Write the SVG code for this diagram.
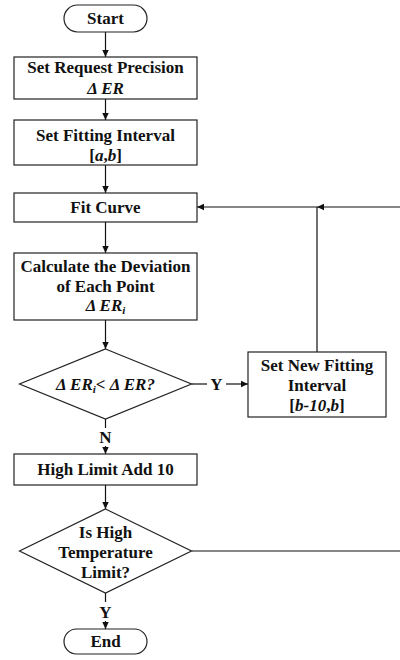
<svg xmlns="http://www.w3.org/2000/svg" width="400" height="660" viewBox="0 0 400 660" font-family="Liberation Serif, serif">
<style>
.shape{fill:#fff;stroke:#222;stroke-width:1.2}
.line{fill:none;stroke:#111;stroke-width:1.2}
text{font-family:'Liberation Serif',serif;font-weight:bold;font-size:17px;fill:#111;text-anchor:middle}
.it{font-style:italic}
</style>
<defs>
<marker id="arr" markerWidth="8" markerHeight="8" refX="7" refY="4" orient="auto" markerUnits="userSpaceOnUse">
<path d="M0,0.8 L7,4 L0,7.2 Z" fill="#111"/>
</marker>
</defs>
<rect width="400" height="660" fill="#fff"/>
<g id="connectors">
<line class="line" x1="105.5" y1="32" x2="105.5" y2="57" marker-end="url(#arr)"/>
<line class="line" x1="105.5" y1="99" x2="105.5" y2="120" marker-end="url(#arr)"/>
<line class="line" x1="105.5" y1="165" x2="105.5" y2="193" marker-end="url(#arr)"/>
<line class="line" x1="105.5" y1="222" x2="105.5" y2="253" marker-end="url(#arr)"/>
<line class="line" x1="105.5" y1="320" x2="105.5" y2="349" marker-end="url(#arr)"/>
<line class="line" x1="105.5" y1="419" x2="105.5" y2="428"/>
<text x="105.5" y="443">N</text>
<line class="line" x1="105.5" y1="446" x2="105.5" y2="454" marker-end="url(#arr)"/>
<line class="line" x1="105.5" y1="485" x2="105.5" y2="509" marker-end="url(#arr)"/>
<line class="line" x1="105.5" y1="593" x2="105.5" y2="602"/>
<text x="105.5" y="618">Y</text>
<line class="line" x1="105.5" y1="621" x2="105.5" y2="629" marker-end="url(#arr)"/>
<line class="line" x1="191.5" y1="384" x2="207" y2="384"/>
<text x="216.5" y="390">Y</text>
<line class="line" x1="226" y1="384" x2="248" y2="384" marker-end="url(#arr)"/>
<line class="line" x1="317" y1="352" x2="317" y2="207"/>
<line class="line" x1="400" y1="207" x2="317" y2="207" marker-end="url(#arr)"/>
<line class="line" x1="317" y1="207" x2="197" y2="207" marker-end="url(#arr)"/>
<line class="line" x1="191.5" y1="551" x2="400" y2="551"/>
</g>
<g id="start">
<rect class="shape" x="64" y="5" width="83" height="27" rx="13.5"/>
<text x="105.5" y="24">Start</text>
</g>
<g id="set-precision">
<rect class="shape" x="14" y="57" width="183" height="42"/>
<text x="105.5" y="73">Set Request Precision</text>
<text x="105.5" y="94" class="it">Δ ER</text>
</g>
<g id="set-interval">
<rect class="shape" x="14" y="120" width="183" height="45"/>
<text x="105.5" y="141">Set Fitting Interval</text>
<text x="105.5" y="161">[<tspan class="it">a</tspan>,<tspan class="it">b</tspan>]</text>
</g>
<g id="fit-curve">
<rect class="shape" x="14" y="193" width="183" height="29"/>
<text x="105.5" y="213">Fit Curve</text>
</g>
<g id="calc-deviation">
<rect class="shape" x="14" y="253" width="183" height="67"/>
<text x="105.5" y="272">Calculate the Deviation</text>
<text x="105.5" y="292">of Each Point</text>
<text x="105.5" y="311" class="it">Δ ER<tspan font-size="11" dy="3">i</tspan></text>
</g>
<g id="compare">
<polygon class="shape" points="105.5,349 191.5,384 105.5,419 19.5,384"/>
<text x="105.5" y="390" class="it">Δ ER<tspan font-size="11" dy="3">i</tspan><tspan dy="-3">&lt; Δ ER?</tspan></text>
</g>
<g id="new-interval">
<rect class="shape" x="248" y="352" width="138" height="65"/>
<text x="317" y="371">Set New Fitting</text>
<text x="317" y="391">Interval</text>
<text x="317" y="411">[<tspan class="it">b-10</tspan>,<tspan class="it">b</tspan>]</text>
</g>
<g id="high-limit">
<rect class="shape" x="14" y="454" width="183" height="31"/>
<text x="105.5" y="475">High Limit Add 10</text>
</g>
<g id="is-high">
<polygon class="shape" points="105.5,509 191.5,551 105.5,593 19.5,551"/>
<text x="105.5" y="538">Is High</text>
<text x="105.5" y="558">Temperature</text>
<text x="105.5" y="578">Limit?</text>
</g>
<g id="end">
<rect class="shape" x="64" y="629" width="83" height="25" rx="12.5"/>
<text x="105.5" y="647">End</text>
</g>
</svg>
